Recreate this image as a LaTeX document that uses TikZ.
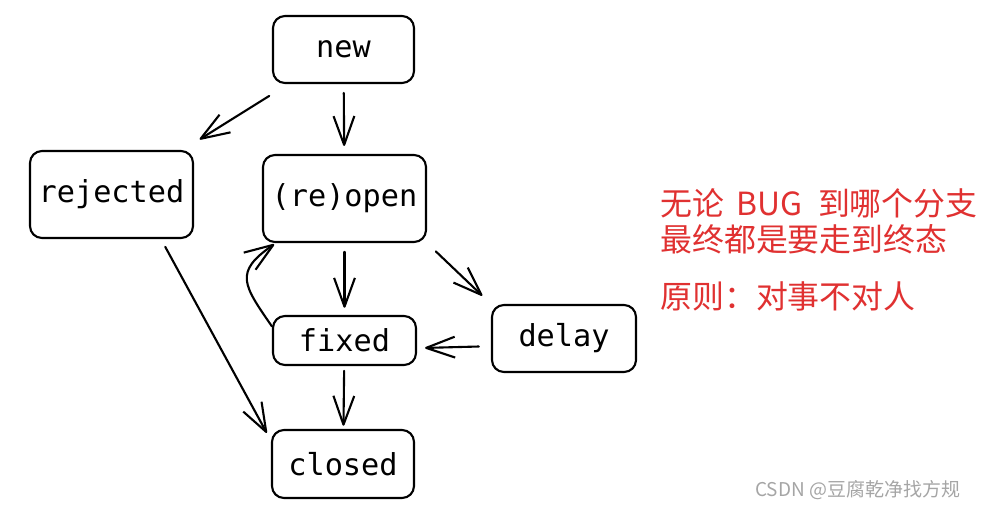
\documentclass[tikz,border=0pt]{standalone}
\usepackage{fontspec}
\setmonofont{DejaVu Sans Mono}
\newfontfamily\cjk{Noto Sans CJK SC}
\usetikzlibrary{arrows.meta,calc}
\definecolor{notered}{RGB}{224,49,49}
\definecolor{markgray}{RGB}{165,165,165}
\tikzset{
	box/.style={draw,rounded corners=0.3cm,line width=1.5pt,inner sep=0pt,font=\ttfamily\fontsize{21.5}{26}\selectfont},
	arr/.style={line width=1.5pt,line cap=round,line join=round,-{Straight Barb[length=0.72cm,width=0.52cm,line join=round]}},
	note/.style={anchor=west,inner sep=0pt,text=notered,font=\cjk\fontsize{22.7}{27}\selectfont}
}
\begin{document}
\begin{tikzpicture}[x=0.025cm,y=-0.025cm]
		\useasboundingbox (0,0) rectangle (981,509);
		\node[box,minimum width=3.525cm,minimum height=1.675cm] (new) at (343.5,49.5) {new};
		\node[box,minimum width=4.075cm,minimum height=2.175cm] (rejected) at (111.5,194.5) {rejected};
		\node[box,minimum width=4.075cm,minimum height=2.175cm] (reopen) at (344.5,198.5) {(re)open};
		\node[box,minimum width=3.575cm,minimum height=1.225cm] (fixed) at (344.5,340.5) {fixed};
		\node[box,minimum width=3.6cm,minimum height=1.675cm] (delay) at (564,338.5) {delay};
		\node[box,minimum width=3.55cm,minimum height=1.7cm] (closed) at (343,464) {closed};
		\draw[arr,shorten <=0.56cm,shorten >=0.5cm] (new) -- (rejected);
		\draw[arr,shorten <=0.22cm,shorten >=0.2cm] (new) -- (reopen);
		\draw[arr,shorten <=0.22cm,shorten >=0.18cm] (reopen) -- (fixed);
		\draw[arr,shorten <=0.3cm,shorten >=0.3cm] (reopen.south east) -- (delay.north west);
		\draw[arr,shorten <=0.3cm,shorten >=0.2cm] (delay.186) -- (fixed.354);
		\draw[arr,shorten <=0.12cm,shorten >=0.08cm] (fixed) -- (closed);
		\draw[arr,shorten <=0.22cm,shorten >=0.22cm] (rejected.-42) -- (closed.162);
		\draw[arr,shorten >=0.05cm] (fixed.169) .. controls +(-29,-42) and +(-42,29) .. (reopen.213);
		\node[note] (rule1) at (660,203) {无论 \hspace{0.12cm}BUG \hspace{0.22cm}到哪个分支};
		\node[note] (rule2) at (660,239) {最终都是要走到终态};
		\node[note] (rule3) at (660,296) {原则：对事不对人};
		\node[anchor=west,inner sep=0pt,text=markgray,font=\cjk\fontsize{13.5}{16}\selectfont] (mark) at (755,490) {CSDN @豆腐乾净找方规};
	\end{tikzpicture}
\end{document}
